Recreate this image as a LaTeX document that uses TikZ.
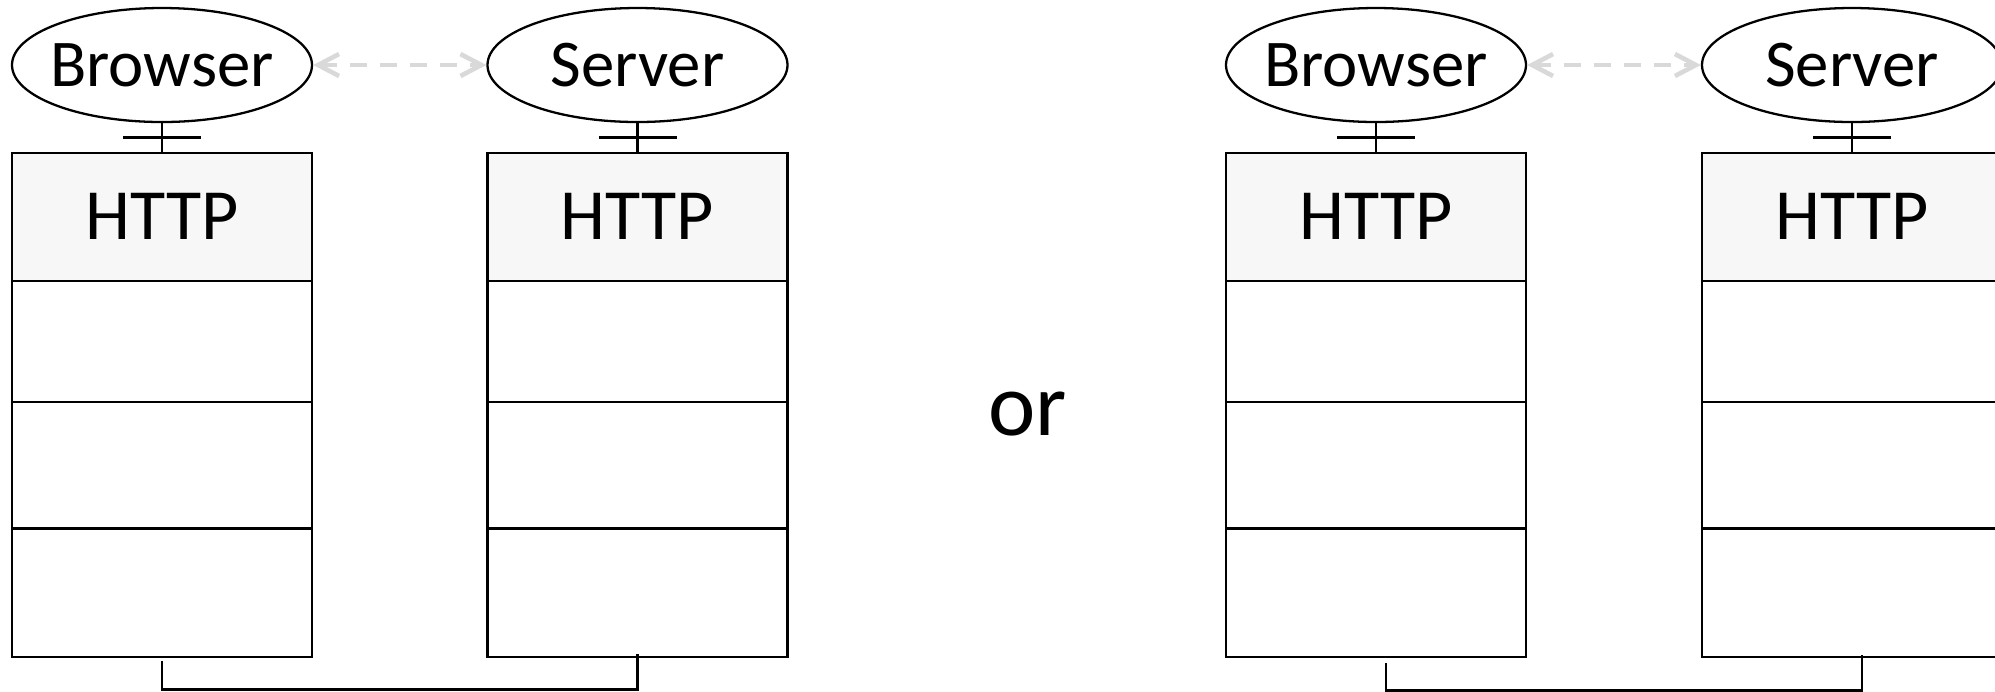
\documentclass[tikz,border=0pt]{standalone}
\usepackage{fontspec}
\setmainfont{Carlito}
\usetikzlibrary{calc,shapes.geometric,arrows.meta}
\definecolor{httpfill}{HTML}{F7F7F7}
\definecolor{linkgray}{HTML}{D9D9D9}

\begin{document}
\begin{tikzpicture}[x=0.1mm, y=-0.1mm, line width=0.65pt,
		app/.style={draw, ellipse, minimum width=30mm, minimum height=11.4mm, inner xsep=-4pt, inner ysep=0pt, font=\fontsize{19}{23}\selectfont},
		layer/.style={draw, rectangle, minimum width=30mm, inner sep=0pt},
		httplayer/.style={layer, fill=httpfill, minimum height=12.8mm, font=\fontsize{20.5}{24}\selectfont},
		peer/.style={linkgray, line width=1.3pt, dash pattern=on 1.7mm off 1.3mm, {Straight Barb[length=2.1mm,width=2.2mm]}-{Straight Barb[length=2.1mm,width=2.2mm]}}]
			%%%%% START %%%%%
			
			\useasboundingbox (0, 0) rectangle (1995, 691);
			\clip (0, 0) rectangle (1995, 691);
			
			% left pair
			\node[app] (browserL) at (162, 65) {Browser};
			\node[app] (serverL) at (637.5, 65) {Server};
			
			\node[httplayer] (browserL1) at (162, 216.7) {HTTP};
			\node[layer, minimum height=12.1mm] (browserL2) at (162, 341.2) {};
			\node[layer, minimum height=12.66mm] (browserL3) at (162, 465) {};
			\node[layer, minimum height=12.87mm] (browserL4) at (162, 592.7) {};
			
			\node[httplayer] (serverL1) at (637.5, 216.7) {HTTP};
			\node[layer, minimum height=12.1mm] (serverL2) at (637.5, 341.2) {};
			\node[layer, minimum height=12.66mm] (serverL3) at (637.5, 465) {};
			\node[layer, minimum height=12.87mm] (serverL4) at (637.5, 592.7) {};
			
			% the word between
			\node[font=\fontsize{25.5}{30}\selectfont] (orword) at (1028, 414) {or};
			
			% right pair
			\node[app] (browserR) at (1376, 65) {Browser};
			\node[app] (serverR) at (1852, 65) {Server};
			
			\node[httplayer] (browserR1) at (1376, 216.7) {HTTP};
			\node[layer, minimum height=12.1mm] (browserR2) at (1376, 341.2) {};
			\node[layer, minimum height=12.66mm] (browserR3) at (1376, 465) {};
			\node[layer, minimum height=12.87mm] (browserR4) at (1376, 592.7) {};
			
			\node[httplayer] (serverR1) at (1852, 216.7) {HTTP};
			\node[layer, minimum height=12.1mm] (serverR2) at (1852, 341.2) {};
			\node[layer, minimum height=12.66mm] (serverR3) at (1852, 465) {};
			\node[layer, minimum height=12.87mm] (serverR4) at (1852, 592.7) {};
			
			% ellipse to stack, with cross bar
			\draw (browserL.south) -- (browserL1.north);
			\draw ($(browserL.south)!0.5!(browserL1.north)$) ++(-39, 0) -- ++(78, 0);
			\draw (serverL.south) -- (serverL1.north);
			\draw ($(serverL.south)!0.5!(serverL1.north)$) ++(-39, 0) -- ++(78, 0);
			\draw (browserR.south) -- (browserR1.north);
			\draw ($(browserR.south)!0.5!(browserR1.north)$) ++(-39, 0) -- ++(78, 0);
			\draw (serverR.south) -- (serverR1.north);
			\draw ($(serverR.south)!0.5!(serverR1.north)$) ++(-39, 0) -- ++(78, 0);
			
			% peer links
			\draw[peer] (browserL.east) -- (serverL.west);
			\draw[peer] (browserR.east) -- (serverR.west);
			
			% bottom links
			\draw ($(browserL4.south)+(0, 3)$) -- ++(0, 28.3) -| ($(serverL4.south)+(0, -4.7)$);
			\draw ($(browserR4.south)+(10, 4.7)$) -- ++(0, 27.6) -| ($(serverR4.south)+(10, -3.7)$);
			
			%%%%% END %%%%%
\end{tikzpicture}
\end{document}
